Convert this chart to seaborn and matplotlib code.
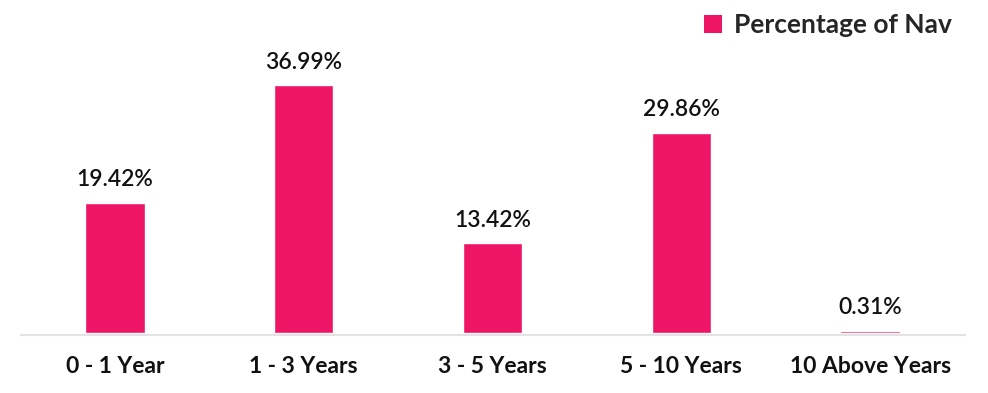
import matplotlib
matplotlib.use("Agg")
import matplotlib.pyplot as plt
import pandas as pd
import seaborn as sns
from matplotlib.patches import Patch

CATEGORIES = ["0 - 1 Year", "1 - 3 Years", "3 - 5 Years", "5 - 10 Years", "10 Above Years"]
VALUES = [19.42, 36.99, 13.42, 29.86, 0.31]
SERIES = "Percentage of Nav"
BAR_COLOR = "#EE1566"

sns.set_theme(style="white")
plt.rcParams["font.family"] = ["Lato", "DejaVu Sans"]

df = pd.DataFrame({"category": CATEGORIES, "value": VALUES})

fig = plt.figure(figsize=(9.88, 3.93), dpi=100)
ax = fig.add_axes([20.5 / 988, 60 / 393, 944 / 988, 323 / 393])
sns.barplot(data=df, x="category", y="value", color=BAR_COLOR, width=0.315,
            saturation=1, ax=ax)
ax.set_ylim(0, 323 / 6.70)
ax.set_xlim(-0.5, len(CATEGORIES) - 0.5)

for i, v in enumerate(VALUES):
    ax.annotate(f"{v:.2f}%", (i, v), xytext=(0, 9), textcoords="offset points",
                ha="center", va="bottom", fontsize=16.5, fontweight="semibold",
                color="#111111")

for s in ["top", "right", "left"]:
    ax.spines[s].set_visible(False)
ax.spines["bottom"].set_color("#E3E3E3")
ax.spines["bottom"].set_linewidth(1.5)
ax.spines["bottom"].set_position(("outward", 1.5))
ax.set_yticks([])
ax.set_xlabel(""); ax.set_ylabel("")
ax.tick_params(axis="x", length=0, pad=15)
for lbl in ax.get_xticklabels():
    lbl.set_fontsize(16.5); lbl.set_fontweight("bold"); lbl.set_color("#111111")

handle = Patch(facecolor=BAR_COLOR, edgecolor="none")
fig.legend([handle], [SERIES], loc="upper right", bbox_to_anchor=(965 / 988, 1.0),
           frameon=False, handlelength=0.7, handleheight=0.7, handletextpad=0.45,
           borderaxespad=0.1, prop={"size": 19, "weight": "bold"})

fig.savefig("out.png", dpi=100)
